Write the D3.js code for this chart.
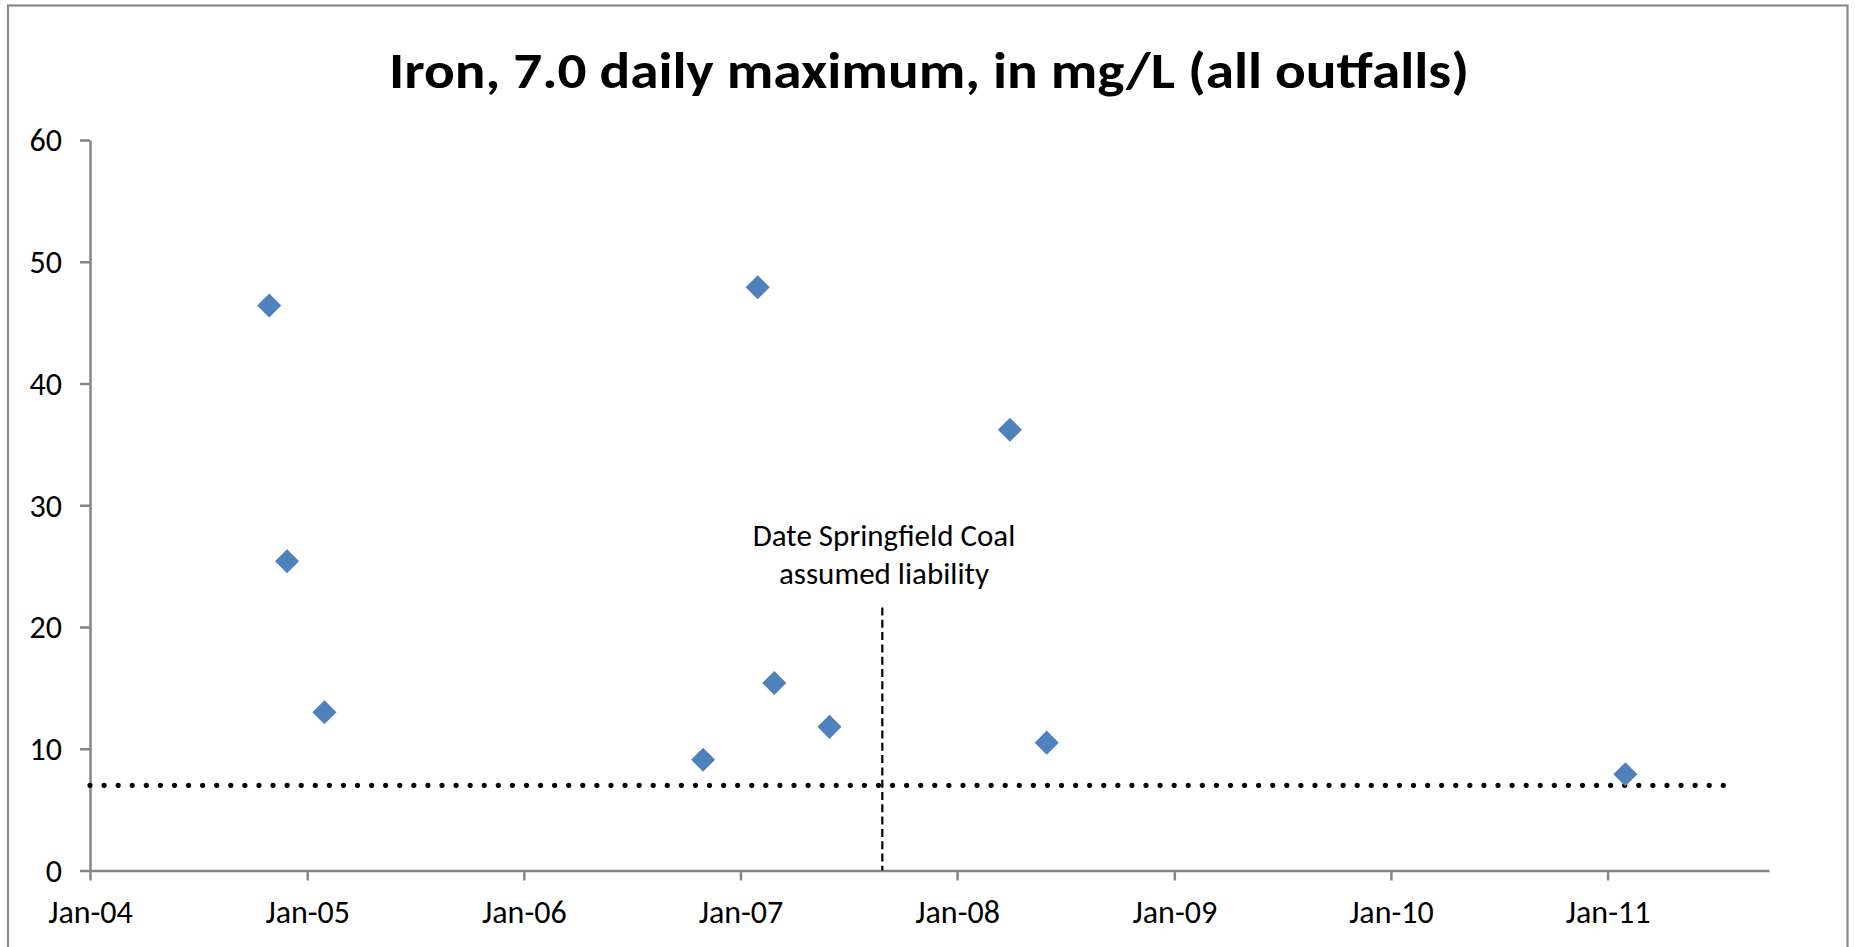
<!DOCTYPE html>
<html>
<head>
<meta charset="utf-8">
<script src="https://cdn.jsdelivr.net/npm/d3@7"></script>
<style>
  html, body { margin: 0; padding: 0; background: #fff; }
  svg { display: block; }
  text { font-family: Carlito, Calibri, Lato, sans-serif; fill: #000; }
</style>
</head>
<body>
<svg id="chart" width="1855" height="947"></svg>
<script>
// ---- data ----
const sampleDates = ["2004-10-29","2004-11-28","2005-01-30","2006-10-30","2007-01-30",
                     "2007-02-27","2007-05-31","2008-03-30","2008-05-31","2011-01-31"];
const ironValues  = [46.4, 25.4, 13.0, 9.1, 47.9, 15.4, 11.8, 36.2, 10.5, 7.9];
const limitDates  = ["2004-01-01", "2011-07-15"];
const limitValues = [7.0, 7.0];
const liabilityDate = "2007-08-28";
const liabilityRange = [0, 21.6];
const liabilityText = ["Date Springfield Coal", "assumed liability"];
const yTickValues = [0, 10, 20, 30, 40, 50, 60];
const xTickDates  = ["2004-01-01","2005-01-01","2006-01-01","2007-01-01","2008-01-01",
                     "2009-01-01","2010-01-01","2011-01-01"];
const xTickLabels = ["Jan-04","Jan-05","Jan-06","Jan-07","Jan-08","Jan-09","Jan-10","Jan-11"];
const xDomain = ["2004-01-01", "2011-09-30"];
const yDomain = [0, 60];
const titleText = "Iron, 7.0 daily maximum, in mg/L (all outfalls)";

// ---- layout ----
const parse = d3.utcParse("%Y-%m-%d");
const svg = d3.select("#chart");
const axisColor = "#868686";
const fontStack = "Carlito, Calibri, Lato, sans-serif";

const x = d3.scaleUtc().domain(xDomain.map(parse)).range([90, 1769]);
const y = d3.scaleLinear().domain(yDomain).range([870.5, 140]);

// outer frame
svg.append("rect")
  .attr("x", 8).attr("y", 5.5).attr("width", 1839.5).attr("height", 1000)
  .attr("fill", "none").attr("stroke", "#8a8a8a").attr("stroke-width", 2.2);

// title
svg.append("text")
  .attr("x", 929).attr("y", 88)
  .attr("text-anchor", "middle")
  .attr("font-size", 51).attr("font-weight", "bold")
  .attr("textLength", 1080).attr("lengthAdjust", "spacingAndGlyphs")
  .text(titleText);

// y axis
const yAxis = svg.append("g")
  .attr("transform", "translate(90,0)")
  .call(d3.axisLeft(y).tickValues(yTickValues).tickSize(10).tickSizeOuter(0).tickPadding(18)
        .tickFormat(d3.format("d")));
yAxis.select(".domain").attr("stroke", axisColor).attr("stroke-width", 2.5);
yAxis.selectAll(".tick line").attr("stroke", axisColor).attr("stroke-width", 2.5);
yAxis.selectAll(".tick text").attr("font-size", 32).attr("fill", "#000")
  .attr("font-family", fontStack).attr("dy", "0.34em");

// x axis
const xAxis = svg.append("g")
  .attr("transform", `translate(0,${y(0)})`)
  .call(d3.axisBottom(x).tickValues(xTickDates.map(parse)).tickSize(10).tickSizeOuter(0)
        .tickFormat((d, i) => xTickLabels[i]));
xAxis.select(".domain").attr("stroke", axisColor).attr("stroke-width", 2.5);
xAxis.selectAll(".tick line").attr("stroke", axisColor).attr("stroke-width", 2.5);
xAxis.selectAll(".tick text").attr("font-size", 32).attr("fill", "#000")
  .attr("font-family", fontStack)
  .attr("y", 52).attr("dy", 0);

// limit line (dotted)
const limitData = limitDates.map((d, i) => ({ date: parse(d), value: limitValues[i] }));
svg.append("path")
  .datum(limitData)
  .attr("fill", "none").attr("stroke", "#000").attr("stroke-width", 5.2)
  .attr("stroke-linecap", "round").attr("stroke-dasharray", "0 14.08")
  .attr("d", d3.line().x(d => x(d.date)).y(d => y(d.value)));

// liability marker (dashed vertical line)
svg.append("line")
  .attr("x1", x(parse(liabilityDate))).attr("x2", x(parse(liabilityDate)))
  .attr("y1", y(liabilityRange[1])).attr("y2", y(liabilityRange[0]))
  .attr("stroke", "#000").attr("stroke-width", 2.2).attr("stroke-dasharray", "8 4.3");

const ann = svg.append("text")
  .attr("text-anchor", "middle").attr("font-size", 31);
liabilityText.forEach((t, i) => {
  ann.append("tspan").attr("x", 884).attr("y", 546 + i * 37.5).text(t);
});

// data points
const pts = sampleDates.map((d, i) => ({ date: parse(d), value: ironValues[i] }));
const diamond = d3.symbol().type(d3.symbolSquare).size(290);
svg.append("g").selectAll("path")
  .data(pts).join("path")
  .attr("d", diamond)
  .attr("fill", "#4F81BD")
  .attr("transform", d => `translate(${x(d.date)},${y(d.value)}) rotate(45)`);
</script>
</body>
</html>
